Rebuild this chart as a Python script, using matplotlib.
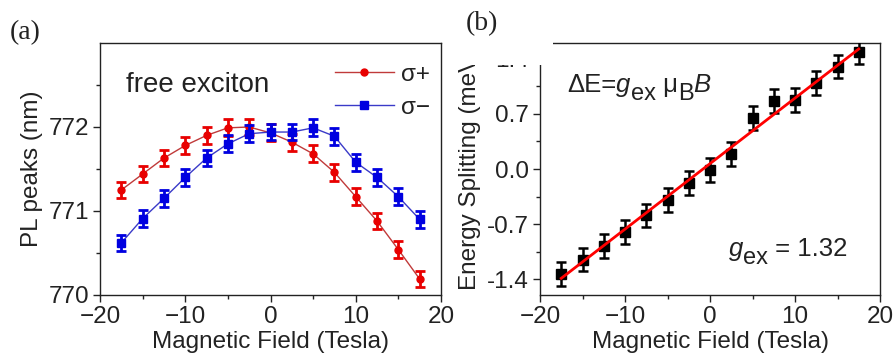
import numpy as np
import matplotlib
matplotlib.use("Agg")
import matplotlib.pyplot as plt
from matplotlib.patches import Rectangle

plt.rcParams['font.family'] = ['Liberation Sans', 'DejaVu Sans']

# ---- data ----
field = [-17.5, -15, -12.5, -10, -7.5, -5, -2.5, 0, 2.5, 5, 7.5, 10, 12.5, 15, 17.5]
sigma_plus = [771.25, 771.44, 771.63, 771.78, 771.90, 771.99, 772.00, 771.93,
              771.82, 771.68, 771.46, 771.17, 770.88, 770.54, 770.19]
sigma_minus = [770.62, 770.91, 771.15, 771.40, 771.63, 771.80, 771.92, 771.94,
               771.94, 771.99, 771.89, 771.58, 771.40, 771.17, 770.90]
pl_err = [0.1] * 15

splitting = [-1.33, -1.15, -0.98, -0.80, -0.59, -0.39, -0.18, -0.01,
             0.19, 0.65, 0.86, 0.88, 1.09, 1.30, 1.48]
split_err = [0.15] * 15

xticks = [-20, -10, 0, 10, 20]
yticks_a = [770, 771, 772]
yticks_b = [-1.4, -0.7, 0.0, 0.7, 1.4]

FS = 17.5
W, H = 893, 354
fig = plt.figure(figsize=(W / 100, H / 100), dpi=100)
renderer = fig.canvas.get_renderer()

ax1 = fig.add_axes([100 / W, 1 - 295 / H, 341 / W, 252 / H])
ax2 = fig.add_axes([540 / W, 1 - 295 / H, 340 / W, 252 / H])

for ax in (ax1, ax2):
    for s in ax.spines.values():
        s.set_linewidth(1.0)
        s.set_color('#222222')
    ax.tick_params(direction='out', length=5, width=1.0, labelsize=FS,
                   colors='#222222', pad=3, top=False, right=False)
    ax.tick_params(which='minor', direction='out', length=3, width=1.0,
                   colors='#222222', top=False, right=False)
    ax.set_xlim(-20, 20)
    ax.set_xticks(xticks)
    ax.set_xticks(np.arange(-15, 20, 10), minor=True)
    ax.set_xlabel('Magnetic Field (Tesla)', fontsize=FS, color='#222222', labelpad=2)


def rich_text(ax, x, y, pieces):
    """pieces: (text, fontsize, dy_px, style); placed one after another."""
    off = 0.0
    for txt, fs, dy, style in pieces:
        t = ax.annotate(txt, (x, y), xytext=(off * 0.72, dy * 0.72),
                        textcoords='offset points', fontsize=fs, style=style,
                        color='#222222', va='baseline', ha='left')
        bb = t.get_window_extent(renderer)
        off += bb.width


# ---- panel (a) ----
ax1.plot(field, sigma_plus, '-', color='#c03a3a', lw=1.0, zorder=2)
ax1.plot(field, sigma_minus, '-', color='#3a3ac8', lw=1.0, zorder=2)
ax1.errorbar(field, sigma_plus, yerr=pl_err, fmt='o', color='#e80000', ms=5,
             elinewidth=2, capsize=3.5, capthick=2, zorder=3)
ax1.errorbar(field, sigma_minus, yerr=pl_err, fmt='s', color='#0000e0', ms=5.5,
             elinewidth=2, capsize=3.5, capthick=2, zorder=4)
ax1.set_ylim(770, 773)
ax1.set_yticks(yticks_a)
ax1.set_yticks([770.5, 771.5, 772.5], minor=True)
ax1.set_ylabel('PL peaks (nm)', fontsize=FS, color='#222222', labelpad=4)
ax1.text(-17.0, 772.42, 'free exciton', fontsize=20, color='#222222', va='baseline')

h1, = ax1.plot([], [], '-o', color='#c03a3a', mfc='#e80000', mec='#e80000', ms=5, lw=1.0)
h2, = ax1.plot([], [], '-s', color='#3a3ac8', mfc='#0000e0', mec='#0000e0', ms=5.5, lw=1.0)
leg = ax1.legend([h1, h2], ['\u03c3+', '\u03c3\u2212'], loc='upper right',
                 bbox_to_anchor=(1.01, 0.975), frameon=False, fontsize=FS,
                 handlelength=2.4, handletextpad=0.3, labelspacing=0.45,
                 borderaxespad=0.2)
for t in leg.get_texts():
    t.set_color('#222222')

# ---- panel (b) ----
coef = np.polyfit(field, splitting, 1)
fx = np.array([field[0], field[-1]])
ax2.errorbar(field, splitting, yerr=split_err, fmt='s', color='black', ms=7,
             elinewidth=1.8, capsize=3.5, capthick=1.8, zorder=3)
ax2.plot(fx, np.polyval(coef, fx), '-', color='#ff0000', lw=2.0, zorder=4)
ax2.set_ylim(-1.6, 1.6)
ax2.set_yticks(yticks_b)
ax2.set_yticklabels(['%.1f' % v for v in yticks_b])
ax2.set_yticks([-1.05, -0.35, 0.35, 1.05], minor=True)
ax2.set_ylabel('Energy Splitting (meV)', fontsize=FS, color='#222222', labelpad=4)

rich_text(ax2, -16.8, 0.98, [('\u0394E=', 18.5, 0, 'normal'),
                             ('g', 18.5, 0, 'italic'),
                             ('ex', 17, -8, 'normal'),
                             (' \u03bc', 18.5, 0, 'normal'),
                             ('B', 17, -8, 'normal'),
                             ('B', 18.5, 0, 'italic')])
rich_text(ax2, 2.2, -1.1, [('g', 18.5, 0, 'italic'),
                           ('ex', 17, -8, 'normal'),
                           (' = 1.32', 18.5, 0, 'normal')])

# white mask over the cropped top-left corner of panel (b)
fig.patches.append(Rectangle((452 / W, 1 - 65 / H), (553 - 452) / W, 65 / H,
                             transform=fig.transFigure, facecolor='white',
                             edgecolor='none', zorder=10))

fig.text(10 / W, 1 - 33 / H, '(a)', fontsize=20, family='Liberation Serif',
         va='center', ha='left', color='#222222')
fig.text(466 / W, 1 - 24 / H, '(b)', fontsize=20, family='Liberation Serif',
         va='center', ha='left', color='#222222', zorder=11)

fig.savefig('out.png', dpi=100)
